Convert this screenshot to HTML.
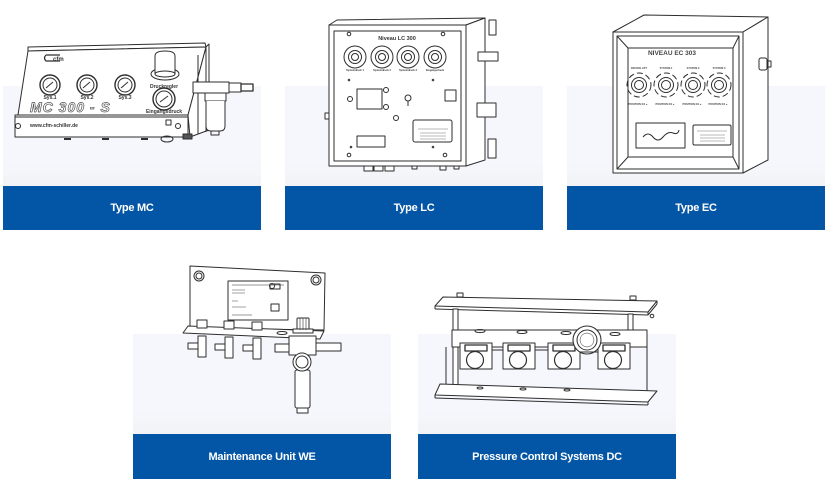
<!DOCTYPE html>
<html>
<head>
<meta charset="utf-8">
<style>
html,body{margin:0;padding:0;background:#fff;}
body{width:830px;height:500px;position:relative;overflow:hidden;font-family:"Liberation Sans",sans-serif;}
.bg{position:absolute;background:linear-gradient(#f5f7fd 0%,#f5f7fd 78%,#f2f3f5 100%);}
.bar{position:absolute;background:#0356a5;color:#fff;font-weight:bold;font-size:11px;letter-spacing:-0.25px;display:flex;align-items:center;justify-content:center;}
svg{position:absolute;left:0;top:0;}
</style>
</head>
<body>
<div class="bg" style="left:3px;top:86px;width:258px;height:100px"></div>
<div class="bg" style="left:285px;top:86px;width:258px;height:100px"></div>
<div class="bg" style="left:567px;top:86px;width:258px;height:100px"></div>
<div class="bg" style="left:133px;top:334px;width:258px;height:100px"></div>
<div class="bg" style="left:418px;top:334px;width:258px;height:100px"></div>

<div class="bar" style="left:3px;top:186px;width:258px;height:44px">Type MC</div>
<div class="bar" style="left:285px;top:186px;width:258px;height:44px">Type LC</div>
<div class="bar" style="left:567px;top:186px;width:258px;height:44px">Type EC</div>
<div class="bar" style="left:133px;top:434px;width:258px;height:45px">Maintenance Unit WE</div>
<div class="bar" style="left:418px;top:434px;width:258px;height:45px">Pressure Control Systems DC</div>

<svg width="830" height="500" viewBox="0 0 830 500" xmlns="http://www.w3.org/2000/svg">
<g stroke="#2e2e2e" stroke-width="1" fill="none" stroke-linejoin="round">

<!-- ============ MC ============ -->
<polygon points="28,47 205,43 206,47 28,51" fill="#fff"/>
<polygon points="28,51 206,47 188,115 18,115" fill="#fff"/>
<rect x="15" y="115" width="173" height="22" fill="#fff"/>
<polygon points="206,47 209,44 209,130 190,137 188,115" fill="#fff"/>
<line x1="198" y1="55" x2="198" y2="134"/>
<line x1="206" y1="47" x2="206" y2="132"/>
<line x1="15" y1="117" x2="188" y2="117"/>
<path d="M46,55 h14 M46,55 q-3,3 0,6 h14" stroke-width="1.2"/>
<text x="53" y="61" font-size="6" font-weight="bold" fill="#333" stroke="none" font-family="Liberation Sans,sans-serif">cfm</text>
<g>
<circle cx="50" cy="85" r="10" fill="#fff" stroke-width="1.4"/><circle cx="50" cy="85" r="7"/><line x1="46" y1="88" x2="53" y2="82"/>
<circle cx="87" cy="85" r="10" fill="#fff" stroke-width="1.4"/><circle cx="87" cy="85" r="7"/><line x1="83" y1="88" x2="90" y2="82"/>
<circle cx="125" cy="85" r="10" fill="#fff" stroke-width="1.4"/><circle cx="125" cy="85" r="7"/><line x1="121" y1="88" x2="128" y2="82"/>
<circle cx="164" cy="99" r="11" fill="#fff" stroke-width="1.4"/><circle cx="164" cy="99" r="8"/><line x1="160" y1="102" x2="168" y2="96"/>
</g>
<ellipse cx="165" cy="74" rx="14" ry="6" fill="#fff"/>
<path d="M155,74 V56 q0,-5 10,-5 q10,0 10,5 V74" fill="#fff"/>
<ellipse cx="165" cy="74" rx="10" ry="3"/>
<g font-family="Liberation Sans,sans-serif" font-size="5" font-weight="bold" fill="#333" stroke="none" text-anchor="middle">
<text x="50" y="99">Sys.1</text><text x="87" y="99">Sys.2</text><text x="125" y="99">Sys.3</text>
<text x="164" y="88">Druckregler</text><text x="164" y="113">Eingangsdruck</text>
<text x="54" y="127" text-anchor="middle">www.cfm-schiller.de</text>
</g>
<text x="30" y="112" font-family="Liberation Sans,sans-serif" font-size="14" font-weight="bold" font-style="italic" fill="#fff" stroke="#555" stroke-width="0.7" letter-spacing="1">MC 300 - S</text>
<circle cx="18" cy="126" r="2.5"/><circle cx="178" cy="126" r="2.5"/>
<rect x="166" y="120" width="5" height="5"/>
<line x1="64" y1="139" x2="71" y2="139" stroke-width="2"/><line x1="102" y1="139" x2="109" y2="139" stroke-width="2"/><line x1="141" y1="139" x2="148" y2="139" stroke-width="2"/>
<ellipse cx="167" cy="139" rx="6" ry="3"/>
<rect x="193" y="82" width="36" height="11" fill="#fff"/>
<rect x="229" y="83" width="12" height="9" fill="#fff"/>
<rect x="241" y="84" width="12" height="7" fill="#fff" stroke-width="1.3"/>
<rect x="205" y="93" width="21" height="8" fill="#fff"/>
<path d="M206,101 V126 q0,5 5,5 h9 q5,0 5,-5 V101" fill="#fff"/>
<rect x="211" y="131" width="8" height="4"/>
<rect x="183" y="134" width="9" height="5" fill="#555"/>

<!-- ============ LC ============ -->
<polygon points="329,25 337,20 485,18 466,25" fill="#fff"/>
<polygon points="466,25 485,18 485,160 466,166" fill="#fff"/>
<rect x="329" y="25" width="137" height="141" fill="#fff"/>
<rect x="334" y="31" width="127" height="130"/>
<g font-family="Liberation Sans,sans-serif" font-weight="bold" fill="#333" stroke="none" text-anchor="middle">
<text x="397" y="40" font-size="5.5">Niveau LC 300</text>
<text x="355" y="71" font-size="2.5">Systemdruck 1</text><text x="382" y="71" font-size="2.5">Systemdruck 2</text><text x="408" y="71" font-size="2.5">Systemdruck 3</text><text x="435" y="71" font-size="2.5">Eingangsdruck</text>
</g>
<g>
<circle cx="355" cy="57" r="11"/><circle cx="355" cy="57" r="6.5"/><circle cx="355" cy="57" r="3.5"/>
<circle cx="382" cy="57" r="11"/><circle cx="382" cy="57" r="6.5"/><circle cx="382" cy="57" r="3.5"/>
<circle cx="408" cy="57" r="11"/><circle cx="408" cy="57" r="6.5"/><circle cx="408" cy="57" r="3.5"/>
<circle cx="435" cy="57" r="11"/><circle cx="435" cy="57" r="6.5"/><circle cx="435" cy="57" r="3.5"/>
</g>
<g fill="#444" stroke="none">
<circle cx="349" cy="80" r="1.3"/><circle cx="433" cy="80" r="1.3"/><circle cx="351" cy="147" r="1.3"/><circle cx="433" cy="147" r="1.3"/>
</g>
<circle cx="349" cy="34" r="1.8"/><circle cx="443" cy="34" r="1.8"/><circle cx="349" cy="155" r="1.8"/><circle cx="445" cy="155" r="1.8"/>
<rect x="357" y="89" width="25" height="20"/>
<circle cx="386" cy="90" r="2.5"/><circle cx="386" cy="107" r="2.5"/><circle cx="350" cy="99" r="2.5"/>
<circle cx="408" cy="98" r="3"/><line x1="408" y1="101" x2="408" y2="106"/>
<rect x="445" y="90" width="11" height="11"/>
<circle cx="396" cy="118" r="2.5"/>
<rect x="413" y="120" width="39" height="22" rx="2"/>
<g stroke="#777" stroke-width="0.6"><line x1="418" y1="129" x2="448" y2="129"/><line x1="420" y1="133" x2="446" y2="133"/><line x1="420" y1="136" x2="446" y2="136"/><line x1="420" y1="139" x2="446" y2="139"/></g>
<rect x="357" y="136" width="28" height="11"/>
<g fill="#fff">
<rect x="364" y="166" width="9" height="5"/><rect x="374" y="166" width="9" height="5"/><rect x="385" y="166" width="9" height="5"/>
<rect x="412" y="166" width="5" height="3"/><rect x="440" y="166" width="6" height="4"/><rect x="454" y="166" width="5" height="3"/>
<rect x="489" y="20" width="7" height="15"/><rect x="478" y="52" width="20" height="9"/><rect x="477" y="103" width="19" height="14"/><rect x="488" y="139" width="8" height="19"/>
<rect x="325" y="113" width="4" height="6"/>
</g>

<!-- ============ EC ============ -->
<polygon points="613,32 644,15 768,17 743,32" fill="#fff"/>
<polygon points="743,32 768,17 768,160 743,173" fill="#fff"/>
<rect x="613" y="32" width="130" height="141" fill="#fff"/>
<rect x="617" y="36" width="122" height="133"/>
<rect x="628" y="48" width="105" height="109"/>
<line x1="617" y1="36" x2="628" y2="48"/><line x1="739" y1="36" x2="733" y2="48"/><line x1="617" y1="169" x2="628" y2="157"/><line x1="739" y1="169" x2="733" y2="157"/>
<rect x="759" y="58" width="8" height="12" rx="2" fill="#fff"/><rect x="767" y="61" width="4" height="6"/>
<g font-family="Liberation Sans,sans-serif" font-weight="bold" fill="#444" stroke="none" text-anchor="middle">
<text x="672" y="55" font-size="6.5">NIVEAU EC 303</text>
<text x="639" y="69" font-size="2.6">DRUCKLUFT</text><text x="666" y="69" font-size="2.6">SYSTEM 1</text><text x="693" y="69" font-size="2.6">SYSTEM 2</text><text x="719" y="69" font-size="2.6">SYSTEM 3</text>
<text x="638" y="105" font-size="2.6">POSITION 0/1 ●</text><text x="665" y="105" font-size="2.6">POSITION 0/1 ●</text><text x="692" y="105" font-size="2.6">POSITION 0/1 ●</text><text x="718" y="105" font-size="2.6">POSITION 0/1 ●</text>
</g>
<g>
<circle cx="639" cy="85" r="12" stroke-dasharray="6 3"/><circle cx="639" cy="85" r="7.5"/><circle cx="639" cy="85" r="4.5"/>
<circle cx="666" cy="85" r="12" stroke-dasharray="6 3"/><circle cx="666" cy="85" r="7.5"/><circle cx="666" cy="85" r="4.5"/>
<circle cx="693" cy="85" r="12" stroke-dasharray="6 3"/><circle cx="693" cy="85" r="7.5"/><circle cx="693" cy="85" r="4.5"/>
<circle cx="719" cy="85" r="12" stroke-dasharray="6 3"/><circle cx="719" cy="85" r="7.5"/><circle cx="719" cy="85" r="4.5"/>
</g>
<rect x="636" y="123" width="49" height="25"/>
<path d="M643,137 q5,-6 10,0 t10,0 t10,-4 t6,-3"/>
<rect x="693" y="125" width="38" height="20" rx="1.5"/>
<g stroke="#777" stroke-width="0.6"><line x1="697" y1="131" x2="727" y2="131"/><line x1="700" y1="135" x2="725" y2="135"/><line x1="700" y1="138" x2="725" y2="138"/><line x1="700" y1="141" x2="725" y2="141"/></g>

<!-- ============ WE ============ -->
<polygon points="190,266 325,273 324,330 190,328" fill="#fff"/>
<circle cx="199" cy="276" r="5"/><circle cx="199" cy="276" r="3"/>
<circle cx="316" cy="280" r="5"/><circle cx="316" cy="280" r="3"/>
<rect x="228" y="281" width="60" height="39"/>
<line x1="232" y1="285" x2="284" y2="285" stroke-width="0.6"/>
<circle cx="272" cy="286" r="2.5"/><rect x="270" y="284" width="10" height="5"/>
<g stroke="#777" stroke-width="0.7"><line x1="232" y1="290" x2="245" y2="290"/><line x1="232" y1="293" x2="245" y2="293"/><line x1="232" y1="301" x2="238" y2="301"/><line x1="232" y1="307" x2="246" y2="307"/><line x1="232" y1="315" x2="252" y2="315"/></g>
<rect x="271" y="304" width="8" height="7"/>
<polygon points="188,326 324,331 320,339 183,333" fill="#fff"/>
<ellipse cx="282" cy="333" rx="5" ry="1.5"/>
<g fill="#fff">
<rect x="197" y="320" width="10" height="8"/><rect x="224" y="321" width="10" height="8"/><rect x="252" y="322" width="10" height="8"/>
<rect x="198" y="336" width="8" height="21"/><rect x="188" y="343" width="10" height="6"/>
<rect x="225" y="337" width="8" height="21"/><rect x="215" y="344" width="10" height="6"/>
<rect x="253" y="338" width="8" height="21"/><rect x="243" y="345" width="10" height="6"/>
<rect x="297" y="318" width="12" height="12" rx="1"/>
<rect x="293" y="329" width="20" height="4"/>
<rect x="275" y="344" width="14" height="8"/><rect x="316" y="343" width="25" height="8"/>
<rect x="289" y="336" width="27" height="19"/>
<rect x="295" y="370" width="15" height="38" rx="2"/>
<rect x="297" y="408" width="11" height="5"/>
<circle cx="302" cy="362" r="9"/>
</g>
<circle cx="302" cy="362" r="6"/>
<g stroke-width="0.6"><line x1="300" y1="318" x2="300" y2="330"/><line x1="303" y1="318" x2="303" y2="330"/><line x1="306" y1="318" x2="306" y2="330"/></g>

<!-- ============ DC ============ -->
<polygon points="443,297 657,301 648,312 435,306" fill="#fff"/>
<line x1="435" y1="306" x2="435" y2="309"/><line x1="435" y1="309" x2="648" y2="315"/><line x1="648" y1="312" x2="648" y2="315"/><line x1="648" y1="315" x2="657" y2="304"/><line x1="657" y1="301" x2="657" y2="304"/>
<rect x="457" y="293" width="6" height="4" fill="#fff"/><rect x="630" y="296" width="6" height="4" fill="#fff"/>
<rect x="453" y="309" width="5" height="78" fill="#fff"/>
<rect x="628" y="314" width="5" height="18" fill="#fff"/>
<circle cx="652" cy="316" r="1.8"/>
<line x1="446" y1="347" x2="446" y2="386"/><line x1="647" y1="347" x2="647" y2="392"/>
<rect x="452" y="330" width="195" height="17" fill="#fff"/>
<ellipse cx="480" cy="331" rx="5" ry="1.5"/><ellipse cx="522" cy="332" rx="5" ry="1.5"/><ellipse cx="566" cy="333" rx="5" ry="1.5"/><ellipse cx="615" cy="334" rx="5" ry="1.5"/>
<polygon points="440,384 657,391 648,402 435,395" fill="#fff"/>
<line x1="435" y1="395" x2="435" y2="398"/><line x1="435" y1="398" x2="648" y2="405"/><line x1="648" y1="402" x2="648" y2="405"/>
<ellipse cx="480" cy="388" rx="3" ry="1"/><ellipse cx="523" cy="389" rx="3" ry="1"/><ellipse cx="567" cy="390" rx="3" ry="1"/>
<g fill="#fff">
<rect x="460" y="343" width="32" height="26"/><rect x="503" y="343" width="32" height="26"/><rect x="548" y="343" width="32" height="26"/><rect x="598" y="343" width="32" height="26"/>
</g>
<g stroke-width="1.3">
<rect x="465" y="345" width="22" height="6"/><rect x="508" y="345" width="22" height="6"/><rect x="553" y="345" width="22" height="6"/><rect x="603" y="345" width="22" height="6"/>
</g>
<g fill="#fff" stroke-width="1.2">
<circle cx="475" cy="360" r="8.5"/><circle cx="518" cy="360" r="8.5"/><circle cx="563" cy="360" r="8.5"/><circle cx="613" cy="360" r="8.5"/>
</g>
<circle cx="587" cy="340" r="14" fill="#fff" stroke-width="1.1"/><circle cx="587" cy="340" r="10"/><circle cx="587" cy="340" r="7" stroke-width="0.5"/>
<path d="M492,350 h11 M535,350 h13 M580,352 h18" />
</g>
</svg>
</body>
</html>
